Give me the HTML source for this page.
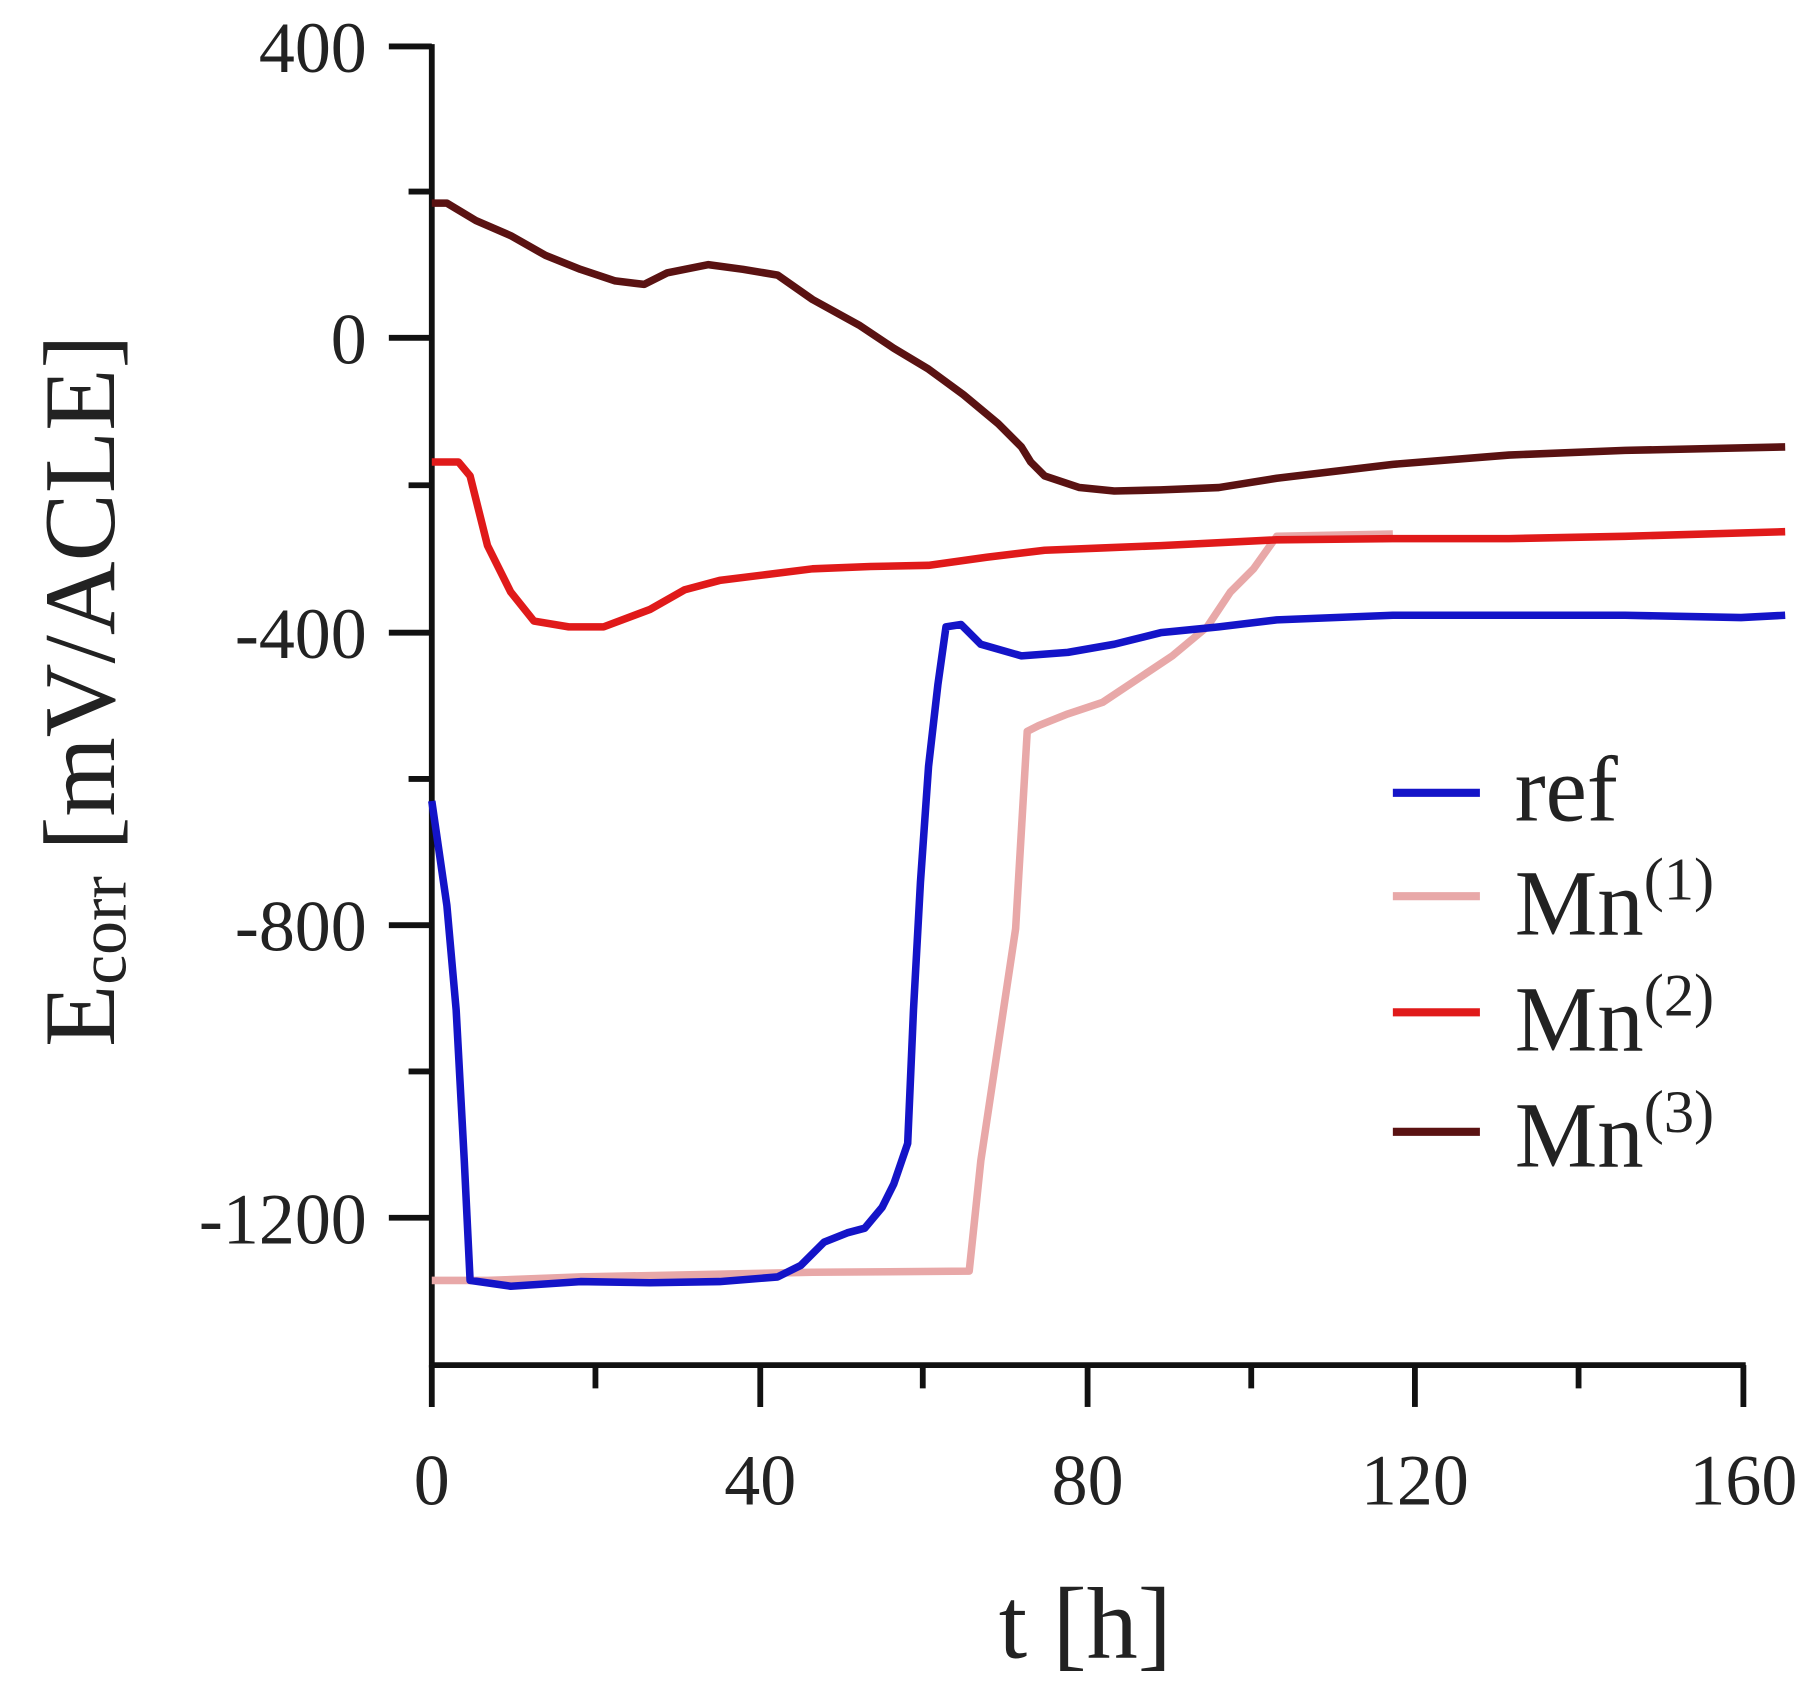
<!DOCTYPE html>
<html><head><meta charset="utf-8"><style>html,body{margin:0;padding:0;background:#fff}svg{display:block}</style></head>
<body>
<svg width="1820" height="1696" viewBox="0 0 1568 1461" preserveAspectRatio="none" xmlns="http://www.w3.org/2000/svg" font-family="Liberation Serif, serif">
<rect width="1568" height="1461" fill="#fff"/>
<g stroke="#111" stroke-width="5" fill="none">
<line x1="372" y1="38" x2="372" y2="1178"/>
<line x1="370" y1="1176" x2="1504" y2="1176"/>
<line x1="335" y1="40" x2="372" y2="40"/>
<line x1="335" y1="291" x2="372" y2="291"/>
<line x1="335" y1="545" x2="372" y2="545"/>
<line x1="335" y1="797" x2="372" y2="797"/>
<line x1="335" y1="1049" x2="372" y2="1049"/>
<line x1="352" y1="165" x2="372" y2="165"/>
<line x1="352" y1="418" x2="372" y2="418"/>
<line x1="352" y1="671" x2="372" y2="671"/>
<line x1="352" y1="923" x2="372" y2="923"/>
<line x1="372" y1="1176" x2="372" y2="1212"/>
<line x1="655" y1="1176" x2="655" y2="1212"/>
<line x1="937" y1="1176" x2="937" y2="1212"/>
<line x1="1219" y1="1176" x2="1219" y2="1212"/>
<line x1="1502" y1="1176" x2="1502" y2="1212"/>
<line x1="513" y1="1176" x2="513" y2="1196"/>
<line x1="795" y1="1176" x2="795" y2="1196"/>
<line x1="1078" y1="1176" x2="1078" y2="1196"/>
<line x1="1360" y1="1176" x2="1360" y2="1196"/>
</g>
<g font-size="62" fill="#222" text-anchor="end">
<text x="316" y="62">400</text>
<text x="316" y="313">0</text>
<text x="316" y="567">-400</text>
<text x="316" y="819">-800</text>
<text x="316" y="1071">-1200</text>
</g>
<g font-size="62" fill="#222" text-anchor="middle">
<text x="372" y="1296">0</text>
<text x="655" y="1296">40</text>
<text x="937" y="1296">80</text>
<text x="1219" y="1296">120</text>
<text x="1502" y="1296">160</text>
</g>
<text x="935" y="1428" font-size="88" fill="#222" text-anchor="middle">t [h]</text>
<text transform="translate(98,595) rotate(-90)" font-size="88" fill="#222" text-anchor="middle">E<tspan font-size="58" dy="10">corr</tspan><tspan dy="-10"> [mV/ACLE]</tspan></text>
<g fill="none" stroke-width="6.5" stroke-linejoin="round">
<polyline stroke="#5a1212" points="372,175 385,175 410,190 440,203 470,220 500,232 530,242 555,245 575,235 610,228 640,232 670,237 700,258 740,280 770,300 800,318 830,340 860,365 880,385 888,398 900,410 930,420 960,423 1000,422 1050,420 1100,412 1200,400 1300,392 1400,388 1538,385"/>
<polyline stroke="#e8a8a8" points="372,1103 420,1103 500,1100 600,1098 700,1096 835,1095 845,1000 860,900 875,800 885,630 895,625 920,615 950,605 980,585 1010,565 1040,540 1060,510 1080,490 1100,462 1200,460"/>
<polyline stroke="#e01a1a" points="372,398 395,398 405,410 420,470 440,510 460,535 490,540 520,540 560,525 590,508 620,500 660,495 700,490 750,488 800,487 850,480 900,474 950,472 1000,470 1100,465 1200,464 1300,464 1400,462 1538,458"/>
<polyline stroke="#1414c8" points="372,690 385,780 393,870 400,1000 405,1103 440,1108 500,1104 560,1105 620,1104 670,1100 690,1090 710,1070 730,1062 745,1058 760,1040 770,1020 782,985 787,870 793,760 800,660 808,590 815,540 828,538 845,555 880,565 920,562 960,555 1000,545 1050,540 1100,534 1200,530 1300,530 1400,530 1500,532 1538,530"/>
</g>
<g stroke-width="7">
<line x1="1200" y1="683" x2="1275" y2="683" stroke="#1414c8"/>
<line x1="1200" y1="772" x2="1275" y2="772" stroke="#e8a8a8"/>
<line x1="1200" y1="872" x2="1275" y2="872" stroke="#e01a1a"/>
<line x1="1200" y1="975" x2="1275" y2="975" stroke="#5a1212"/>
</g>
<g font-size="80" fill="#222">
<text x="1305" y="707">ref</text>
<text x="1305" y="805">Mn<tspan font-size="52" dy="-30">(1)</tspan></text>
<text x="1305" y="905">Mn<tspan font-size="52" dy="-30">(2)</tspan></text>
<text x="1305" y="1005">Mn<tspan font-size="52" dy="-30">(3)</tspan></text>
</g>
</svg>
</body></html>
